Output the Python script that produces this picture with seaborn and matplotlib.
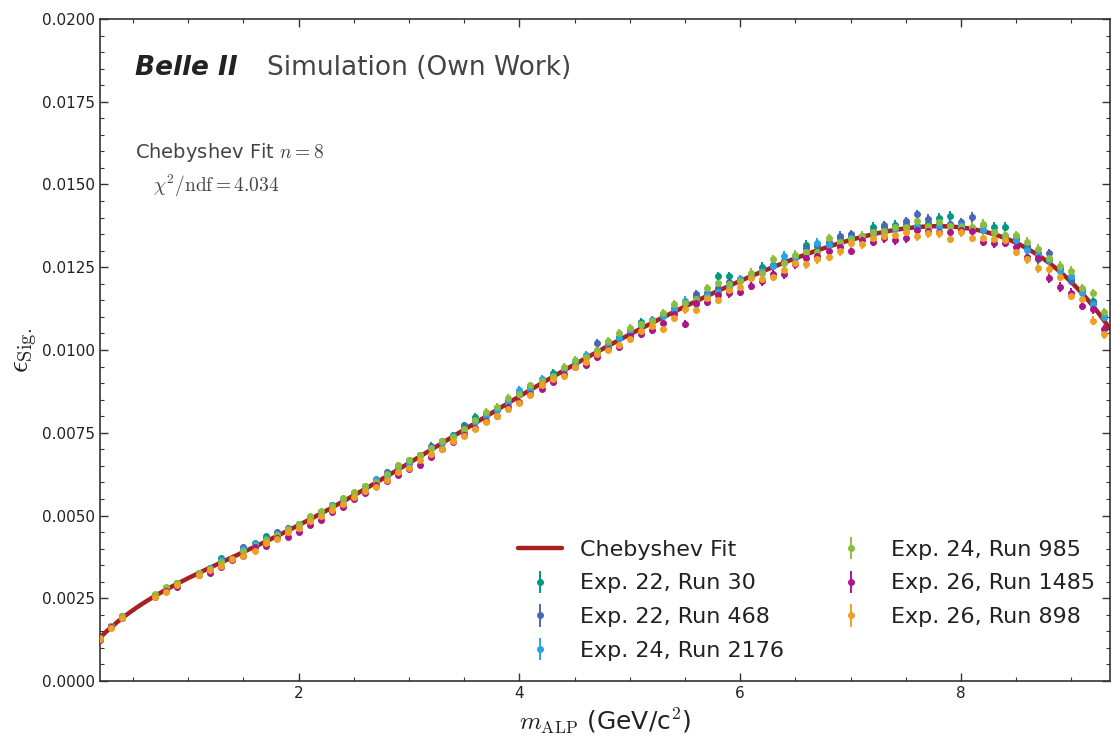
import numpy as np
import pandas as pd
import matplotlib
matplotlib.use("Agg")
import matplotlib.pyplot as plt
import seaborn as sns
from matplotlib.ticker import MultipleLocator, FormatStrFormatter

# ALP mass points (GeV/c^2)
m_alp = [0.2, 0.3, 0.4, 0.7, 0.8, 0.9,
         1.1, 1.2, 1.3, 1.4, 1.5, 1.6, 1.7, 1.8, 1.9, 2.0,
         2.1, 2.2, 2.3, 2.4, 2.5, 2.6, 2.7, 2.8, 2.9, 3.0,
         3.1, 3.2, 3.3, 3.4, 3.5, 3.6, 3.7, 3.8, 3.9, 4.0,
         4.1, 4.2, 4.3, 4.4, 4.5, 4.6, 4.7, 4.8, 4.9, 5.0,
         5.1, 5.2, 5.3, 5.4, 5.5, 5.6, 5.7, 5.8, 5.9, 6.0,
         6.1, 6.2, 6.3, 6.4, 6.5, 6.6, 6.7, 6.8, 6.9, 7.0,
         7.1, 7.2, 7.3, 7.4, 7.5, 7.6, 7.7, 7.8, 7.9, 8.0,
         8.1, 8.2, 8.3, 8.4, 8.5, 8.6, 8.7, 8.8, 8.9, 9.0,
         9.1, 9.2, 9.3]

# Mean signal efficiency over all runs at each mass point
eff_mean = [0.00126, 0.00163, 0.00193, 0.00257, 0.00276, 0.00292,
            0.00322, 0.00337, 0.00353, 0.00368, 0.00384, 0.00400, 0.00418, 0.00435, 0.00451, 0.00469,
            0.00488, 0.00507, 0.00526, 0.00545, 0.00564, 0.00583, 0.00602, 0.00621, 0.00641, 0.00660,
            0.00680, 0.00699, 0.00719, 0.00738, 0.00758, 0.00778, 0.00798, 0.00818, 0.00837, 0.00857,
            0.00877, 0.00896, 0.00916, 0.00935, 0.00954, 0.00973, 0.00992, 0.01011, 0.01030, 0.01050,
            0.01068, 0.01086, 0.01103, 0.01120, 0.01136, 0.01151, 0.01166, 0.01180, 0.01193, 0.01206,
            0.01220, 0.01234, 0.01248, 0.01261, 0.01274, 0.01287, 0.01300, 0.01312, 0.01322, 0.01331,
            0.01339, 0.01346, 0.01352, 0.01357, 0.01362, 0.01366, 0.01369, 0.01370, 0.01370, 0.01368,
            0.01364, 0.01357, 0.01348, 0.01337, 0.01323, 0.01307, 0.01288, 0.01266, 0.01240, 0.01210,
            0.01176, 0.01138, 0.01094]

# Statistical uncertainty on each efficiency (units of 1e-5)
eff_err = [5, 5, 5, 6, 6, 6,
           6, 6, 7, 7, 7, 7, 7, 7, 8, 8,
           8, 8, 8, 9, 9, 9, 9, 9, 9, 9,
           10, 10, 10, 10, 10, 10, 10, 10, 11, 11,
           11, 11, 11, 11, 11, 12, 12, 12, 12, 12,
           12, 12, 12, 13, 13, 13, 13, 13, 13, 13,
           13, 13, 13, 14, 14, 14, 14, 14, 14, 14,
           14, 14, 14, 14, 14, 14, 14, 14, 14, 14,
           14, 14, 14, 14, 14, 14, 14, 14, 14, 13,
           13, 13, 13]

# Per-run deviation from the mean efficiency (units of 1e-5)
dev_e22_r30 = [2, 3, 2, 4, 5, 3,
               3, 3, 18, 1, 18, 16, 20, 10, 8, 5,
               5, 4, 7, 5, 4, 5, 6, 8, 8, 7,
               3, 6, 6, 5, 15, 21, 10, 8, 10, 12,
               10, 8, 15, 8, 8, 8, 5, 6, 8, 8,
               18, 5, 5, 8, 8, 8, 5, 43, 30, 8,
               5, 18, 8, 8, 8, 30, 15, 14, 15, 16,
               5, 26, 20, 22, 20, 10, 14, 30, 36, 2,
               5, 20, 24, 35, 15, 5, -14, 10, 8, 5,
               5, 10, 10]
dev_e22_r468 = [1, 2, 2, 3, 4, 3,
                3, 5, 12, 1, 20, 14, 12, 15, 12, 4,
                5, 4, 7, 4, 4, 4, 5, 11, 6, 5,
                3, 12, 5, 3, 8, 8, 8, 6, 8, 12,
                3, 8, 6, 10, 8, 6, 30, 5, 5, 6,
                9, 3, 3, -1, 6, 18, 5, 6, 12, 5,
                5, 5, 8, 5, 5, 20, 17, 11, 23, 18,
                5, 13, 25, 15, 27, 44, 27, 10, 10, 18,
                38, 5, 9, 8, 10, 7, 5, 26, 5, -2,
                3, 5, 5]
dev_e24_r2176 = [2, 2, 1, 3, 4, 3,
                 3, 5, 14, 1, 15, 14, 12, 8, 8, 4,
                 5, 4, 5, 4, 4, 4, 8, -1, 1, -5,
                 3, 6, 1, 2, -5, 3, 3, 1, 3, 22,
                 6, 17, 6, 7, 8, 11, 3, 5, 5, 10,
                 9, 5, 0, 3, 13, -12, 0, -4, -2, 8,
                 4, 5, 5, 23, 6, 10, 24, 6, 2, 8,
                 3, 5, 5, 8, 7, 5, 2, 2, 5, 10,
                 5, 5, 10, 8, 9, -5, 0, 5, -2, 13,
                 -3, 1, 6]
dev_e24_r985 = [3, 4, 3, 7, 8, 5,
                5, 2, 6, 1, 10, 9, 8, 5, 8, 6,
                9, 6, 4, 7, 8, 7, 0, 5, 12, 7,
                3, 4, 5, -1, 2, 11, 16, 11, 18, 9,
                16, 9, 5, 14, 16, 7, 9, 15, 21, 16,
                12, 2, 8, 19, 5, 2, 20, 21, 5, 3,
                14, 0, 26, 3, 14, 10, -3, 25, 5, 3,
                6, 11, 7, 15, 10, 24, 6, 18, 4, 5,
                8, 25, 10, 10, 24, 20, 17, 11, 15, 30,
                11, 33, 20]
dev_e26_r1485 = [-1, -1, -2, -3, -5, -8,
                 -3, -10, -9, -1, -5, 4, -10, -3, -17, -19,
                 -16, -20, -16, -18, -15, -14, -10, -18, -19, -20,
                 -27, -21, -17, -15, -14, -14, -12, -18, -10, -15,
                 -9, -13, -12, -8, -5, -18, -12, -8, -20, -8,
                 -20, -27, -22, -10, -57, -8, -20, -15, -22, -30,
                 -26, -27, -18, -31, -15, -10, -16, -14, -10, -31,
                 -8, -19, -15, -25, -25, -3, -8, -12, -14, -5,
                 -5, -30, -25, -13, -11, -25, -10, -49, -50, -37,
                 -43, -15, -32]
dev_e26_r898 = [0, -2, -3, -4, -6, -3,
                -3, -2, -5, 0, -7, -8, -2, -5, -2, -6,
                -6, -10, -8, -10, -8, -8, -17, -14, -11, -15,
                -12, -13, -17, -13, -18, -16, -15, -18, -15, -18,
                -14, -3, -5, -15, -5, -8, -4, -10, -15, -17,
                -10, -15, -40, -22, -13, -30, -10, -29, -12, -15,
                -3, -20, -26, -19, -10, -27, -26, -30, -23, -9,
                -20, -7, -7, -10, -5, -23, -16, -17, -34, -12,
                -25, -18, -13, -5, -26, -33, -41, -22, -18, -47,
                -21, -49, -47]

run_labels = ["Exp. 22, Run 30", "Exp. 22, Run 468", "Exp. 24, Run 2176",
              "Exp. 24, Run 985", "Exp. 26, Run 1485", "Exp. 26, Run 898"]
run_devs = [dev_e22_r30, dev_e22_r468, dev_e24_r2176,
            dev_e24_r985, dev_e26_r1485, dev_e26_r898]
run_colors = ["#009a84", "#4a66b3", "#2ba3e0", "#8bbd3f", "#aa168c", "#eda022"]
fit_color = "#a82020"

# Assemble a long table of all runs
m = np.array(m_alp)
base = np.array(eff_mean)
err = np.array(eff_err) * 1e-5
frames = []
for lab, dev in zip(run_labels, run_devs):
    frames.append(pd.DataFrame({"m": m, "eff": base + np.array(dev) * 1e-5,
                                "err": err, "run": lab}))
df = pd.concat(frames, ignore_index=True)

# Degree-8 Chebyshev fit to all runs
cheb = np.polynomial.Chebyshev.fit(df["m"], df["eff"], 8, w=1.0 / df["err"])
x_lo, x_hi = 0.2, 9.35
m_fine = np.linspace(x_lo, x_hi, 500)
fit_df = pd.DataFrame({"m": m_fine, "eff": cheb(m_fine)})

sns.set_theme(style="ticks")
plt.rcParams["font.family"] = ["DejaVu Sans"]
plt.rcParams["mathtext.fontset"] = "cm"

fig = plt.figure(figsize=(11.11, 7.40), dpi=100)
ax = fig.add_axes([100 / 1111, 59 / 740, 1010 / 1111, 662 / 740])

sns.lineplot(data=fit_df, x="m", y="eff", ax=ax, color=fit_color, lw=3.2,
             label="Chebyshev Fit", zorder=2, legend=False)

handles = [ax.lines[0]]
for lab, col in zip(run_labels, run_colors):
    sub = df[df["run"] == lab]
    h = ax.errorbar(sub["m"], sub["eff"], yerr=sub["err"], fmt="o", ms=4.0,
                    color=col, mec=col, elinewidth=1.4, capsize=0,
                    label=lab, zorder=3)
    handles.append(h)

ax.set_xlim(x_lo, x_hi)
ax.set_ylim(0.0, 0.02)
ax.xaxis.set_major_locator(MultipleLocator(2))
ax.xaxis.set_minor_locator(MultipleLocator(0.5))
ax.yaxis.set_major_locator(MultipleLocator(0.0025))
ax.yaxis.set_minor_locator(MultipleLocator(0.0005))
ax.yaxis.set_major_formatter(FormatStrFormatter("%.4f"))
ax.tick_params(which="both", direction="in", top=True, right=True,
               colors="#333333", labelcolor="#222222", labelsize=11)
ax.tick_params(which="major", length=6, width=1.0)
ax.tick_params(which="minor", length=3, width=0.8)
for sp in ax.spines.values():
    sp.set_color("#333333")
    sp.set_linewidth(1.2)

ax.set_xlabel(r"$m_{\rm ALP}$ (GeV/c$^2$)", fontsize=18, color="#222222")
ax.set_ylabel(r"$\epsilon_{\rm Sig.}$", fontsize=21, color="#222222", labelpad=2)

ax.text(0.035, 0.915, "Belle II", transform=ax.transAxes, fontsize=19,
        fontweight="bold", fontstyle="italic", color="#222222", va="baseline")
ax.text(0.165, 0.915, "Simulation (Own Work)", transform=ax.transAxes,
        fontsize=19, color="#444444", va="baseline")
ax.text(0.035, 0.790, r"Chebyshev Fit $n = 8$", transform=ax.transAxes,
        fontsize=14, color="#444444", va="baseline")
ax.text(0.0525, 0.739, r"$\chi^2/\mathrm{ndf} = 4.034$", transform=ax.transAxes,
        fontsize=14, color="#444444", va="baseline")

leg = ax.legend(handles=handles, labels=["Chebyshev Fit"] + run_labels,
                ncol=2, loc="lower right", frameon=False, fontsize=16,
                labelspacing=0.62, columnspacing=2.0,
                bbox_to_anchor=(1.005, 0.0))
for t in leg.get_texts():
    t.set_color("#222222")

fig.savefig("out.png", dpi=100)
